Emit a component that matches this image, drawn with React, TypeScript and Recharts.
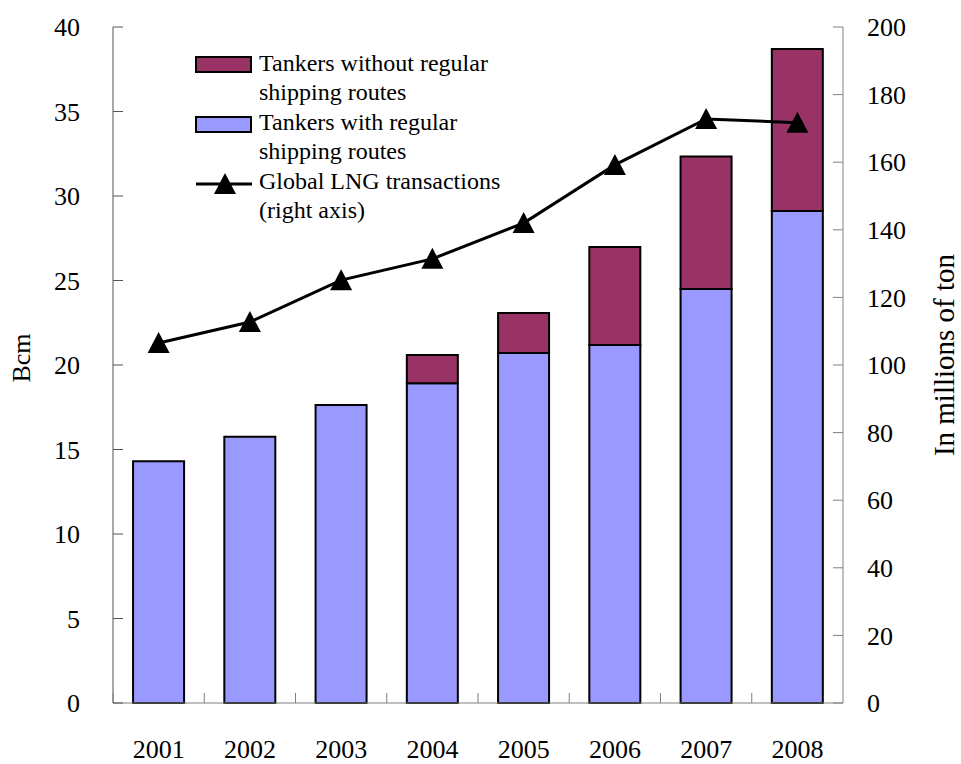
import { Bar, ComposedChart, Legend, Line, XAxis, YAxis } from "recharts";

const years = ["2001", "2002", "2003", "2004", "2005", "2006", "2007", "2008"];
const regularRoutes = [14.3, 15.75, 17.63, 18.92, 20.71, 21.18, 24.5, 29.11];
const irregularRoutes = [0, 0, 0, 1.67, 2.37, 5.8, 7.83, 9.59];
const lngTransactions = [106.5, 112.7, 125.1, 131.4, 142, 159.2, 172.8, 171.7];
const leftTicks = [0, 5, 10, 15, 20, 25, 30, 35, 40];
const rightTicks = [0, 20, 40, 60, 80, 100, 120, 140, 160, 180, 200];
const legendLines = [
  ["Tankers without regular", "shipping routes"],
  ["Tankers with regular", "shipping routes"],
  ["Global LNG transactions", "(right axis)"],
];

const data = years.map((year, i) => ({
  year,
  regular: regularRoutes[i],
  irregular: irregularRoutes[i],
  lng: lngTransactions[i],
}));

const FONT = "'Liberation Serif', 'Times New Roman', serif";
const BLUE = "#9999FF";
const PURPLE = "#993366";
const AXIS = "#808080";

const triangle = (cx: number, cy: number) =>
  `M${cx},${cy - 11} L${cx + 11},${cy + 10} L${cx - 11},${cy + 10} Z`;

const TriangleDot = (props: any) => {
  const { cx, cy } = props;
  if (cx == null || cy == null) return null;
  return <path d={triangle(cx, cy)} fill="#000" />;
};

const LeftTick = (props: any) => {
  const { x, y, payload } = props;
  return (
    <g>
      <line x1={x} y1={y} x2={x + 10} y2={y} stroke="#555" strokeWidth={1} />
      <text x={x - 33} y={y} dy="0.35em" textAnchor="end" fontSize={26} fontFamily={FONT} fill="#000">
        {payload.value}
      </text>
    </g>
  );
};

const RightTick = (props: any) => {
  const { x, y, payload } = props;
  return (
    <g>
      <line x1={x - 10} y1={y} x2={x} y2={y} stroke={AXIS} strokeWidth={1} />
      <text x={x + 24} y={y} dy="0.35em" textAnchor="start" fontSize={26} fontFamily={FONT} fill="#000">
        {payload.value}
      </text>
    </g>
  );
};

const BottomTick = (props: any) => {
  const { x, y, payload } = props;
  const half = payload.offset || 45.6;
  return (
    <g>
      <line x1={x - half} y1={y} x2={x - half} y2={y - 10} stroke={AXIS} strokeWidth={1} />
      <text x={x} y={y + 55} textAnchor="middle" fontSize={26} fontFamily={FONT} fill="#000">
        {payload.value}
      </text>
    </g>
  );
};

const LegendBox = () => {
  const ox = 190;
  const oy = 40;
  const tx = 259 - ox;
  const text = (s: string, y: number) => (
    <text x={tx} y={y - oy} fontSize={24} fontFamily={FONT} fill="#000">
      {s}
    </text>
  );
  return (
    <svg width={360} height={200}>
      <rect x={196 - ox} y={57 - oy} width={55} height={15} fill={PURPLE} stroke="#000" strokeWidth={2} />
      {text(legendLines[0][0], 71)}
      {text(legendLines[0][1], 100)}
      <rect x={196 - ox} y={117 - oy} width={55} height={15} fill={BLUE} stroke="#000" strokeWidth={2} />
      {text(legendLines[1][0], 130)}
      {text(legendLines[1][1], 159)}
      <line x1={196 - ox} y1={184 - oy} x2={252 - ox} y2={184 - oy} stroke="#000" strokeWidth={3} />
      <path d={triangle(225 - ox, 184 - oy)} fill="#000" />
      {text(legendLines[2][0], 189)}
      {text(legendLines[2][1], 218)}
    </svg>
  );
};

export default function App() {
  return (
    <div style={{ position: "absolute", left: 0, top: 0, background: "#fff" }}>
      <ComposedChart
        width={961}
        height={764}
        data={data}
        margin={{ top: 27, right: 0, bottom: 0, left: 0 }}
        barCategoryGap="22%"
      >
        <XAxis
          dataKey="year"
          height={61}
          axisLine={{ stroke: AXIS, strokeWidth: 1 }}
          tickLine={false}
          tickSize={0}
          tickMargin={0}
          tick={<BottomTick />}
          interval={0}
        />
        <YAxis
          yAxisId="left"
          width={113}
          domain={[0, 40]}
          ticks={leftTicks}
          axisLine={{ stroke: "#555", strokeWidth: 1 }}
          tickLine={false}
          tickSize={0}
          tickMargin={0}
          tick={<LeftTick />}
          label={(p: any) => {
            const vb = p.viewBox;
            const cx = vb.x + 30;
            const cy = vb.y + vb.height / 2 - 7;
            return (
              <text
                x={cx}
                y={cy}
                transform={`rotate(-90, ${cx}, ${cy})`}
                textAnchor="middle"
                fontSize={26}
                fontFamily={FONT}
                fill="#000"
              >
                Bcm
              </text>
            );
          }}
        />
        <YAxis
          yAxisId="right"
          orientation="right"
          width={118}
          domain={[0, 200]}
          ticks={rightTicks}
          axisLine={{ stroke: AXIS, strokeWidth: 1 }}
          tickLine={false}
          tickSize={0}
          tickMargin={0}
          tick={<RightTick />}
          label={(p: any) => {
            const vb = p.viewBox;
            const cx = vb.x + 111;
            const cy = vb.y + vb.height / 2 - 10;
            return (
              <text
                x={cx}
                y={cy}
                transform={`rotate(-90, ${cx}, ${cy})`}
                textAnchor="middle"
                fontSize={29}
                fontFamily={FONT}
                fill="#000"
              >
                In millions of ton
              </text>
            );
          }}
        />
        <Legend
          layout="vertical"
          align="center"
          verticalAlign="middle"
          content={() => <LegendBox />}
          wrapperStyle={{ left: 190, top: 40, width: 360, height: 200 }}
        />
        <Bar
          yAxisId="left"
          dataKey="regular"
          name="Tankers with regular shipping routes"
          stackId="t"
          fill={BLUE}
          stroke="#000"
          strokeWidth={2}
          isAnimationActive={false}
        />
        <Bar
          yAxisId="left"
          dataKey="irregular"
          name="Tankers without regular shipping routes"
          stackId="t"
          fill={PURPLE}
          stroke="#000"
          strokeWidth={2}
          isAnimationActive={false}
        />
        <Line
          yAxisId="right"
          dataKey="lng"
          name="Global LNG transactions (right axis)"
          type="linear"
          stroke="#000"
          strokeWidth={3}
          dot={<TriangleDot />}
          activeDot={false}
          isAnimationActive={false}
        />
      </ComposedChart>
    </div>
  );
}
